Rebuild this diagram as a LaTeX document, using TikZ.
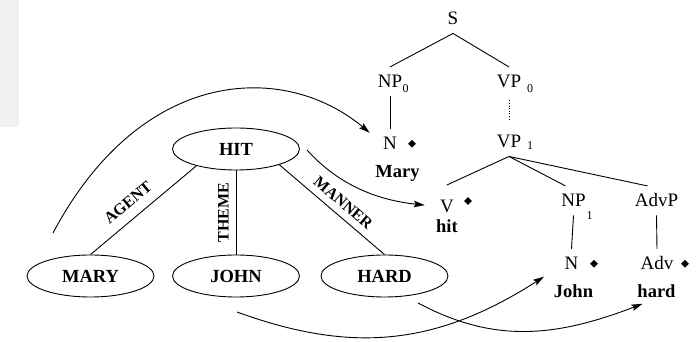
\documentclass[tikz,border=0pt]{standalone}
\usepackage{fontspec}
\setmainfont{Liberation Serif}
\usetikzlibrary{shapes.geometric,arrows.meta}
\newcommand{\catsub}[3]{\rlap{\hspace{#1}\raisebox{-#2}{\fontsize{12}{12}\selectfont #3}}}
\newcommand{\headmark}[2]{\rlap{\hspace{#1}\raisebox{#2}{\rotatebox{45}{\rule{5.5pt}{5.5pt}}}}}

\begin{document}
\begin{tikzpicture}[x=1pt,y=1pt,line width=0.9pt,
  cat/.style={font=\fontsize{19}{19}\selectfont,text height=12.6pt,text depth=0pt,inner xsep=0pt,inner ysep=8pt},
  word/.style={font=\fontsize{18.5}{18.5}\selectfont\bfseries,text height=12.6pt,text depth=0pt,inner sep=0pt},
  concept/.style={draw,ellipse,minimum width=127pt,minimum height=42pt,inner sep=0pt,font=\fontsize{18.5}{18.5}\selectfont\bfseries},
  role/.style={font=\fontsize{16}{16}\selectfont\bfseries,inner sep=7pt},
  link/.style={-{Stealth[length=11pt,width=6.5pt,inset=2pt]}}]
\useasboundingbox (0,0) rectangle (697,342);
\fill[gray!12] (0,215) rectangle (19,342);

\node[cat] (s) at (453,323.3) {S};
\node[cat] (np0) at (390,260.3) {NP\catsub{0.5pt}{5pt}{0}};
\node[cat] (vp0) at (509,260.3) {VP\catsub{6pt}{5pt}{0}};
\node[cat] (n0) at (390,198.3) {N\headmark{11.3pt}{2.4pt}};
\node[cat] (vp1) at (509,200.3) {VP\catsub{6pt}{2pt}{1}};
\node[cat,inner ysep=15pt] (v) at (447,135.3) {V\headmark{10.3pt}{8.1pt}};
\node[cat] (np1) at (573.5,141.3) {NP\catsub{1pt}{13pt}{1}};
\node[cat] (advp) at (656.5,141.3) {AdvP};
\node[cat] (n1) at (571.5,78.3) {N\headmark{11.8pt}{2.4pt}};
\node[cat] (adv) at (657,78.3) {Adv\headmark{7.7pt}{2.4pt}};
\node[word] (mary) at (397.5,170.3) {Mary};
\node[word] (hit) at (447,115.3) {hit};
\node[word] (john) at (573.5,50.3) {John};
\node[word] (hard) at (656.5,50.3) {hard};

\draw (s.south) -- (np0.north);
\draw (s.south) -- (vp0.north);
\draw (np0.south) -- (n0.north);
\draw[dash pattern=on 1pt off 1.6pt,shorten <=4pt,shorten >=7pt] (vp0.south) -- (vp1.north);
\draw (vp1.south) -- (v.north);
\draw (vp1.south) -- ([xshift=-8pt]np1.north);
\draw (vp1.south) -- ([xshift=-9pt]advp.north);
\draw (np1.south) -- (n1.north);
\draw (advp.south) -- (adv.north);

\node[concept] (HIT) at (236,193) {HIT};
\node[concept] (MARY) at (90.5,66) {MARY};
\node[concept] (JOHN) at (236,66) {JOHN};
\node[concept] (HARD) at (384.5,66) {HARD};

\draw (HIT.203) -- node[role,sloped,anchor=south,pos=0.55,inner sep=10pt] {AGENT} (MARY.north);
\draw (HIT.south) -- node[role,rotate=90,anchor=south,pos=0.5] {THEME} (JOHN.north);
\draw (HIT.-20) -- node[role,sloped,anchor=south,pos=0.53] {MANNER} (HARD.north);

\coordinate (from1) at (53,109);
\coordinate (from2) at (307,192);
\coordinate (from3) at (237,30);
\coordinate (from4) at (418,39);
\draw[link,shorten >=17pt] (from1) .. controls +(62:190) and +(140:127) .. (n0.west);
\draw[link,shorten >=15pt] (from2) .. controls +(-48:45) and +(174:65) .. (v.west);
\draw[link,shorten >=24pt] (from3) .. controls +(-20:120) and +(212.7:154) .. (n1.west);
\draw[link,shorten >=15pt] (from4) .. controls +(-28:85) and +(201:110) .. (hard.south);
\end{tikzpicture}
\end{document}
